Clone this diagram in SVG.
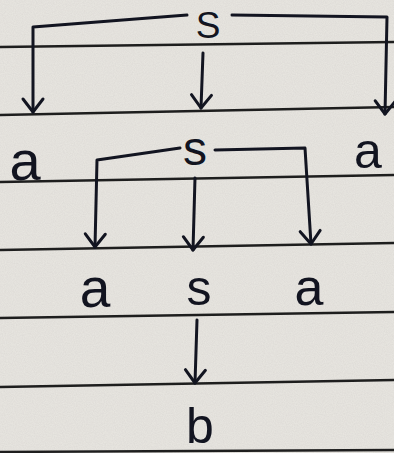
<svg xmlns="http://www.w3.org/2000/svg" width="394" height="453" viewBox="0 0 394 453">
  <style>
    .rule { stroke: #1e1e1e; stroke-width: 2.4; fill: none; }
    .ink { stroke: #121420; stroke-width: 3; fill: none; stroke-linecap: round; stroke-linejoin: round; }
    .lbl { font-family: "Liberation Sans", Arial, sans-serif; fill: #121420; text-anchor: middle; }
  </style>
  <defs>
    <filter id="paper" x="0" y="0" width="100%" height="100%">
      <feTurbulence type="fractalNoise" baseFrequency="0.9" numOctaves="2" seed="3" result="n"/>
      <feColorMatrix in="n" type="matrix" values="0 0 0 0 0.55  0 0 0 0 0.53  0 0 0 0 0.50  0 0 0 0.35 0" result="c"/>
      <feComposite in="c" in2="SourceGraphic" operator="over"/>
    </filter>
    <marker id="arr" markerUnits="userSpaceOnUse" viewBox="-16 -14 20 28" markerWidth="20" markerHeight="28" refX="0" refY="0" orient="auto">
      <path d="M-13,-10 L0,0 L-13,10" fill="none" stroke="#121420" stroke-width="3" stroke-linecap="round" stroke-linejoin="round"/>
    </marker>
  </defs>

  <rect x="0" y="0" width="394" height="453" fill="#e9e7e2" filter="url(#paper)"/>

  <g id="paper-rules">
    <line class="rule" x1="0" y1="47" x2="394" y2="42"/>
    <line class="rule" x1="0" y1="115" x2="394" y2="107"/>
    <line class="rule" x1="0" y1="182" x2="394" y2="175"/>
    <line class="rule" x1="0" y1="250" x2="394" y2="243"/>
    <line class="rule" x1="0" y1="318" x2="394" y2="312"/>
    <line class="rule" x1="0" y1="387" x2="394" y2="380"/>
    <line class="rule" x1="0" y1="452" x2="394" y2="450"/>
  </g>

  <g id="connectors">
    <path class="ink" d="M187,15 L33,27 L33,112" marker-end="url(#arr)"/>
    <path class="ink" d="M203,53 L201,108" marker-end="url(#arr)"/>
    <path class="ink" d="M232,15 L387,17 L385,114" marker-end="url(#arr)"/>
    <path class="ink" d="M180,148 L97,160 L95,247" marker-end="url(#arr)"/>
    <path class="ink" d="M195,178 L193,250" marker-end="url(#arr)"/>
    <path class="ink" d="M215,150 L305,148 L311,244" marker-end="url(#arr)"/>
    <path class="ink" d="M197,320 L195,383" marker-end="url(#arr)"/>
  </g>

  <g id="n-S-root"><text class="lbl" x="208" y="38" font-size="37">S</text></g>
  <g id="n-a-left"><text class="lbl" x="25" y="180" font-size="56">a</text></g>
  <g id="n-s-mid"><text class="lbl" x="195" y="165" font-size="48">s</text></g>
  <g id="n-a-right"><text class="lbl" x="368" y="168" font-size="50">a</text></g>
  <g id="n-a-l2"><text class="lbl" x="95" y="307" font-size="55">a</text></g>
  <g id="n-s-l2"><text class="lbl" x="199" y="305" font-size="50">s</text></g>
  <g id="n-a-r2"><text class="lbl" x="309" y="305" font-size="52">a</text></g>
  <g id="n-b"><text class="lbl" x="200" y="443" font-size="50">b</text></g>
</svg>
